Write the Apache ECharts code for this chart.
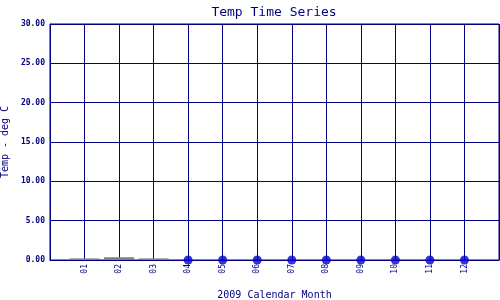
<!DOCTYPE html>
<html><head><meta charset="utf-8">
<script src="https://cdn.jsdelivr.net/npm/echarts@6/dist/echarts.min.js"></script>
<style>html,body{margin:0;padding:0;background:#fff}#c{width:500px;height:300px}</style>
</head><body><div id="c"></div>
<script>
const months = ['01','02','03','04','05','06','07','08','09','10','11','12'];
// grey bars (near-zero months)
const greyMonths = [1, 2, 3];
const greyValues = [0.2, 0.35, 0.2];
// temperature points
const tempMonths = [4, 5, 6, 7, 8, 9, 10, 11, 12];
const tempValues = [0, 0, 0, 0, 0, 0, 0, 0, 0];
const yTicks = [0, 5, 10, 15, 20, 25, 30];

const navy = '#000080';
const chart = echarts.init(document.getElementById('c'), null, {renderer: 'canvas'});
chart.setOption({
  backgroundColor: '#ffffff',
  animation: false,
  title: {
    text: 'Temp Time Series', left: 269, top: 1, textAlign: 'center',
    textStyle: {fontFamily: 'DejaVu Sans Mono', fontSize: 13, fontWeight: 'normal', color: navy}
  },
  grid: {left: 50, right: 1, top: 24, bottom: 40, show: true, borderColor: navy, borderWidth: 1,
         containLabel: false, outerBoundsMode: 'none'},
  xAxis: {
    type: 'value', min: 0, max: 13, interval: 1,
    name: '2009 Calendar Month', nameLocation: 'middle', nameGap: 30,
    nameTextStyle: {fontFamily: 'DejaVu Sans Mono', fontSize: 10, color: navy},
    axisLine: {show: true, lineStyle: {color: navy, width: 1}},
    axisTick: {show: false},
    splitLine: {show: true, lineStyle: {color: navy, width: 1}},
    axisLabel: {
      rotate: 90, margin: 4, fontFamily: 'DejaVu Sans Mono', fontSize: 8, color: navy,
      formatter: v => (v >= 1 && v <= 12) ? months[v - 1] : ''
    }
  },
  yAxis: {
    type: 'value', min: yTicks[0], max: yTicks[yTicks.length - 1], interval: 5,
    name: 'Temp - deg C', nameLocation: 'middle', nameGap: 40, nameRotate: 90,
    nameTextStyle: {fontFamily: 'DejaVu Sans Mono', fontSize: 10, color: navy},
    axisLine: {show: true, lineStyle: {color: navy, width: 1}},
    axisTick: {show: false},
    splitLine: {show: true, lineStyle: {color: navy, width: 1}},
    axisLabel: {
      margin: 5, fontFamily: 'DejaVu Sans Mono', fontSize: 8, fontWeight: 'bold', color: navy,
      formatter: v => v.toFixed(2)
    }
  },
  series: [
    {
      type: 'bar', barWidth: 30, barMinHeight: 1, z: 5,
      itemStyle: {color: '#808080'},
      data: greyMonths.map((m, i) => [m, greyValues[i]])
    },
    {
      type: 'scatter', symbol: 'circle', symbolSize: 9, z: 6,
      itemStyle: {color: '#0000cc'},
      data: tempMonths.map((m, i) => [m, tempValues[i]])
    }
  ]
});
</script></body></html>
